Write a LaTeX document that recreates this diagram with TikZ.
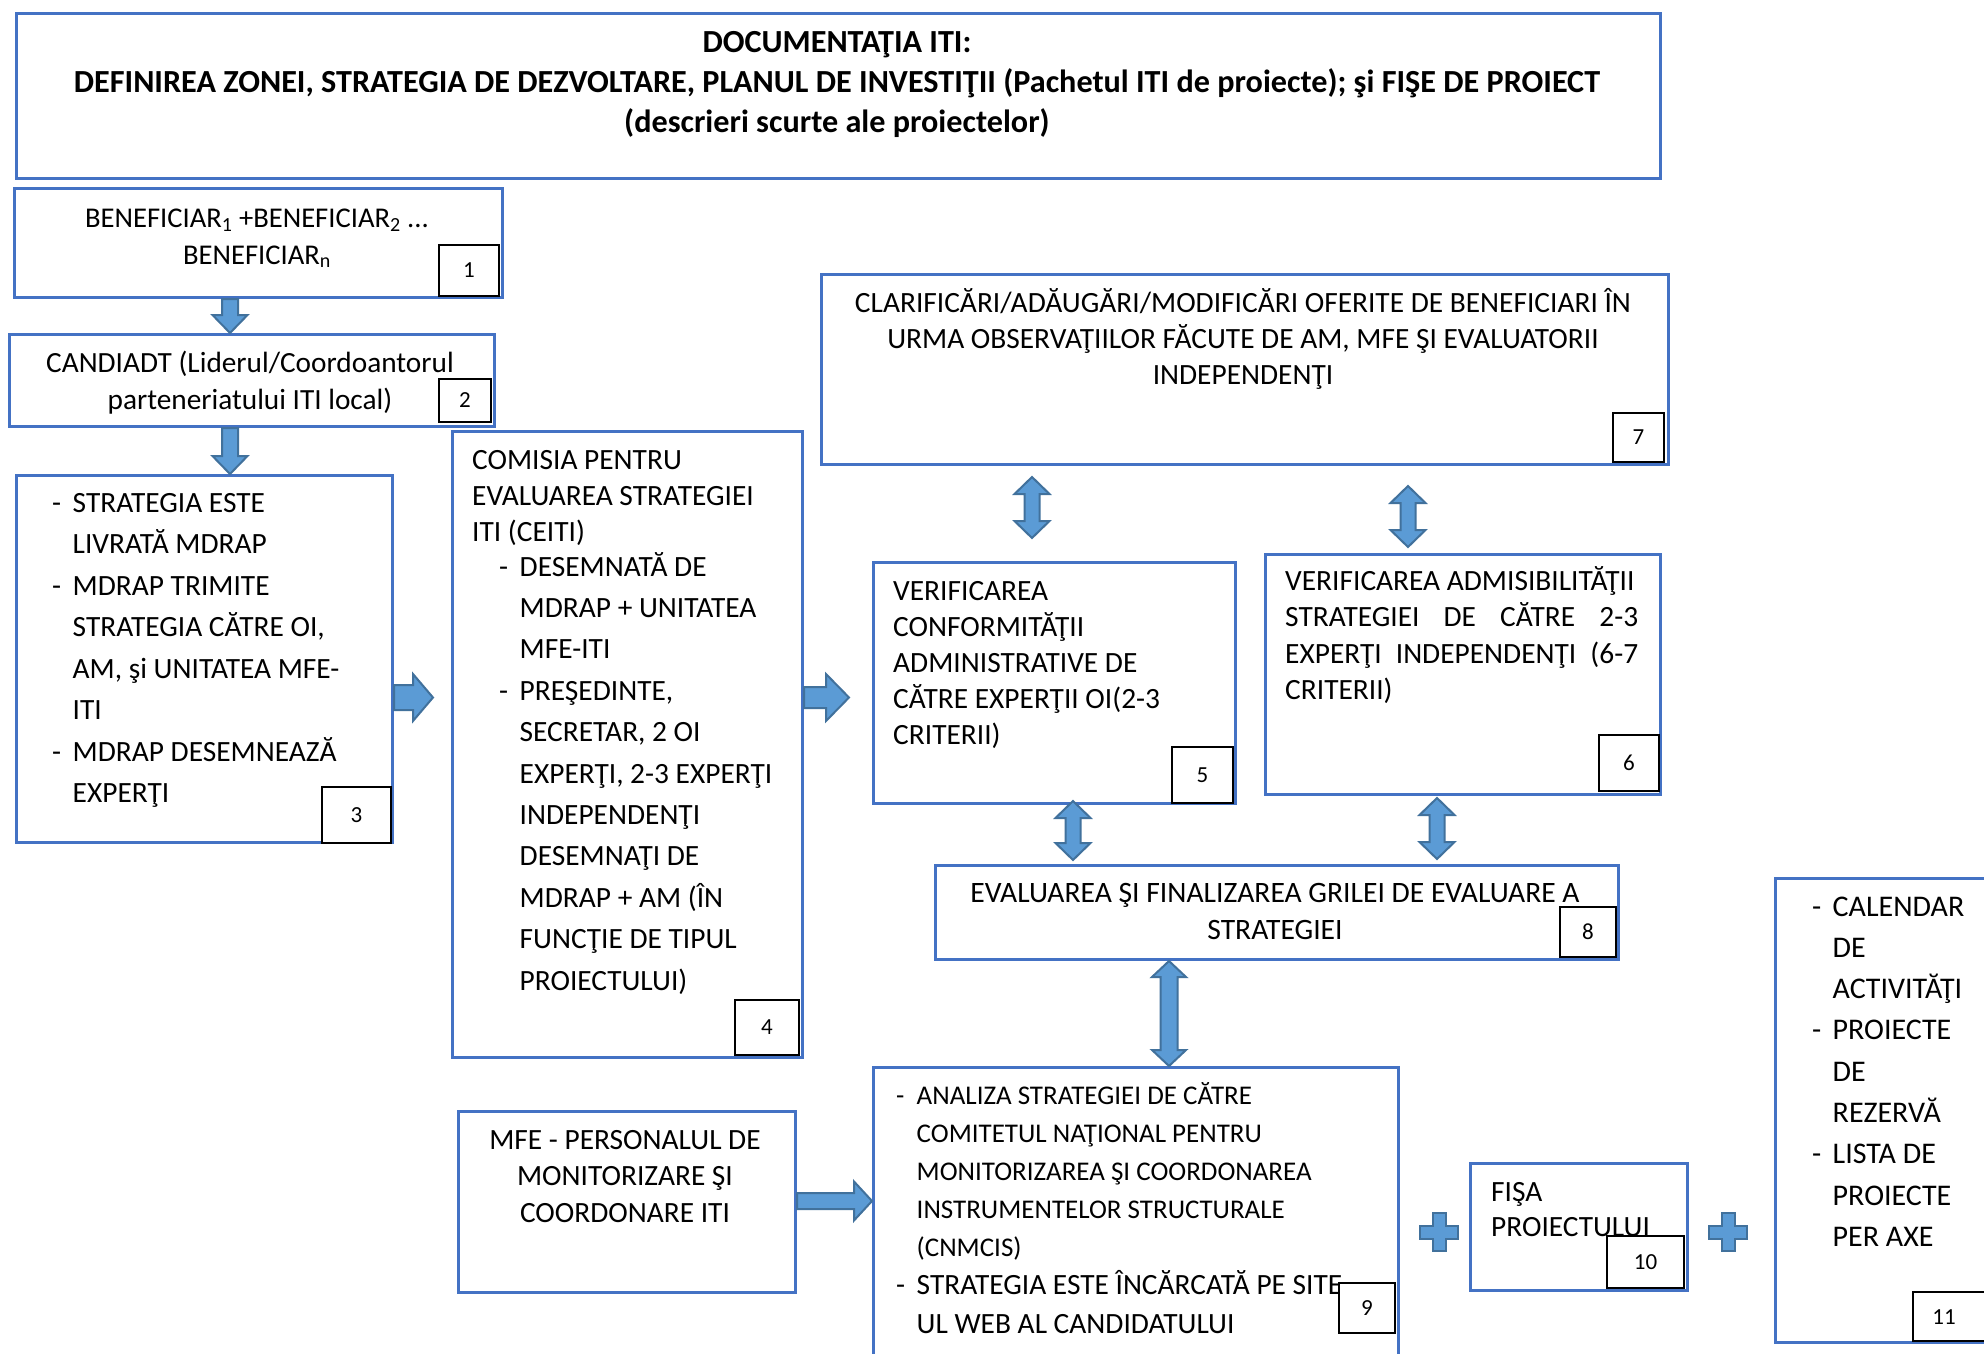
\documentclass[tikz,border=0pt]{standalone}
\usepackage{fontspec}
\setmainfont{Carlito}
\usetikzlibrary{calc}
\definecolor{boxblue}{HTML}{4472C4}
\definecolor{arrowfill}{HTML}{5B9BD5}
\definecolor{arrowline}{HTML}{41719C}
\newcommand\bfnt[2]{\fontsize{#1}{#2}\selectfont}
\newcommand\dsh{\makebox[20.5pt][l]{-}}
% vertical down block arrow: #1 start, #2 tip, #3 half shaft, #4 half head, #5 head length
\newcommand\arrowdown[5]{%
 \path[blockarrow] let \p1=(#1), \p2=(#2) in
  (\x1-#3pt,\y1) -- (\x1-#3pt,\y2+#5pt) -- (\x1-#4pt,\y2+#5pt) -- (\x1,\y2) --
  (\x1+#4pt,\y2+#5pt) -- (\x1+#3pt,\y2+#5pt) -- (\x1+#3pt,\y1) -- cycle;}
\newcommand\arrowright[5]{%
 \path[blockarrow] let \p1=(#1), \p2=(#2) in
  (\x1,\y1+#3pt) -- (\x2-#5pt,\y1+#3pt) -- (\x2-#5pt,\y1+#4pt) -- (\x2,\y1) --
  (\x2-#5pt,\y1-#4pt) -- (\x2-#5pt,\y1-#3pt) -- (\x1,\y1-#3pt) -- cycle;}
\newcommand\arrowupdown[5]{%
 \path[blockarrow] let \p1=(#1), \p2=(#2) in
  (\x1,\y1) -- (\x1+#4pt,\y1-#5pt) -- (\x1+#3pt,\y1-#5pt) -- (\x1+#3pt,\y2+#5pt) --
  (\x1+#4pt,\y2+#5pt) -- (\x1,\y2) -- (\x1-#4pt,\y2+#5pt) -- (\x1-#3pt,\y2+#5pt) --
  (\x1-#3pt,\y1-#5pt) -- (\x1-#4pt,\y1-#5pt) -- cycle;}
\newcommand\plussign[1]{%
 \path[blockarrow] let \p1=(#1) in
  (\x1-6.5pt,\y1+19pt) -- (\x1+6.5pt,\y1+19pt) -- (\x1+6.5pt,\y1+6.5pt) -- (\x1+19pt,\y1+6.5pt) --
  (\x1+19pt,\y1-6.5pt) -- (\x1+6.5pt,\y1-6.5pt) -- (\x1+6.5pt,\y1-19pt) -- (\x1-6.5pt,\y1-19pt) --
  (\x1-6.5pt,\y1-6.5pt) -- (\x1-19pt,\y1-6.5pt) -- (\x1-19pt,\y1+6.5pt) -- (\x1-6.5pt,\y1+6.5pt) -- cycle;}
\tikzset{
 box/.style={draw=boxblue, line width=3pt, inner sep=0pt, anchor=north west},
 numbox/.style={draw=black, line width=1.6pt, fill=white, inner sep=0pt, font=\bfnt{23}{28}},
 numtxt/.style={inner sep=0pt, font=\bfnt{23}{28}},
 blockarrow/.style={fill=arrowfill, draw=arrowline, line width=2pt, line join=miter},
 txt/.style={inner sep=0pt, anchor=base west},
 ctxt/.style={inner sep=0pt, anchor=base},
}
\begin{document}
\begin{tikzpicture}[x=1pt,y=-1pt]
\useasboundingbox (0,0) rectangle (1984,1354);
\clip (0,0) rectangle (1984,1354);
\fill[white] (0,0) rectangle (1984,1354);

% boxes
\node[box, minimum width=1644, minimum height=165] (title) at (15,12) {};
\node[box, minimum width=488, minimum height=109] (box1) at (13,187) {};
\node[box, minimum width=485, minimum height=92] (box2) at (8,333) {};
\node[box, minimum width=376, minimum height=367] (box3) at (15,474) {};
\node[box, minimum width=350, minimum height=626] (box4) at (451,430) {};
\node[box, minimum width=847, minimum height=190] (box7) at (820,273) {};
\node[box, minimum width=362, minimum height=241] (box5) at (872,561) {};
\node[box, minimum width=395, minimum height=240] (box6) at (1264,553) {};
\node[box, minimum width=683, minimum height=94] (box8) at (934,864) {};
\node[box, minimum width=525, minimum height=330] (box9) at (872,1066) {};
\node[box, minimum width=337, minimum height=181] (mfe) at (457,1110) {};
\node[box, minimum width=217, minimum height=127] (box10) at (1469,1162) {};
\node[box, minimum width=230, minimum height=464] (box11) at (1774,877) {};

% texts
\node[ctxt, font=\bfnt{32.2}{39.5}\bfseries] (ttitle) at (837,53) {\begin{tabular}[t]{@{}c@{}}DOCUMENTAŢIA ITI:\\
DEFINIREA ZONEI, STRATEGIA DE DEZVOLTARE, PLANUL DE INVESTIŢII (Pachetul ITI de proiecte); şi FIŞE DE PROIECT\\
(descrieri scurte ale proiectelor)\end{tabular}};

\node[ctxt, font=\bfnt{28.6}{37}] (t1) at (257,227) {\begin{tabular}[t]{@{}c@{}}BENEFICIAR\textsubscript{1} +BENEFICIAR\textsubscript{2} ...\\ BENEFICIAR\textsubscript{n}\end{tabular}};

\node[ctxt, font=\bfnt{29.3}{37}] (t2) at (250,372) {\begin{tabular}[t]{@{}c@{}}CANDIADT (Liderul/Coordoantorul\\ parteneriatului ITI local)\end{tabular}};

\node[txt, font=\bfnt{29.4}{41.5}] (t3) at (52,512) {\begin{tabular}[t]{@{}l@{}l@{}}\dsh & STRATEGIA ESTE\\ & LIVRATĂ MDRAP\\
\dsh & MDRAP TRIMITE\\ & STRATEGIA CĂTRE OI,\\ & AM, şi UNITATEA MFE-\\ & ITI\\
\dsh & MDRAP DESEMNEAZĂ\\ & EXPERŢI\end{tabular}};

\node[txt, font=\bfnt{29.4}{36}] (t4a) at (472,469) {\begin{tabular}[t]{@{}l@{}}COMISIA PENTRU\\ EVALUAREA STRATEGIEI\\ ITI (CEITI)\end{tabular}};
\node[txt, font=\bfnt{29.4}{41.4}] (t4b) at (499,576) {\begin{tabular}[t]{@{}l@{}l@{}}\dsh & DESEMNATĂ DE\\ & MDRAP + UNITATEA\\ & MFE-ITI\\
\dsh & PREŞEDINTE,\\ & SECRETAR, 2 OI\\ & EXPERŢI, 2-3 EXPERŢI\\ & INDEPENDENŢI\\ & DESEMNAŢI DE\\ & MDRAP + AM (ÎN\\ & FUNCŢIE DE TIPUL\\ & PROIECTULUI)\end{tabular}};

\node[ctxt, font=\bfnt{29.4}{36}] (t7) at (1243,312) {\begin{tabular}[t]{@{}c@{}}CLARIFICĂRI/ADĂUGĂRI/MODIFICĂRI OFERITE DE BENEFICIARI ÎN\\ URMA OBSERVAŢIILOR FĂCUTE DE AM, MFE ŞI EVALUATORII\\ INDEPENDENŢI\end{tabular}};

\node[txt, font=\bfnt{29.4}{36}] (t5) at (893,600) {\begin{tabular}[t]{@{}l@{}}VERIFICAREA\\ CONFORMITĂŢII\\ ADMINISTRATIVE DE\\ CĂTRE EXPERŢII OI(2-3\\ CRITERII)\end{tabular}};

\node[txt, font=\bfnt{29.4}{36.5}] (t6) at (1285,590) {\begin{tabular}[t]{@{}l@{}}VERIFICAREA ADMISIBILITĂŢII\\ \makebox[353pt][s]{STRATEGIEI DE CĂTRE 2-3}\\ \makebox[353pt][s]{EXPERŢI INDEPENDENŢI (6-7}\\ CRITERII)\end{tabular}};

\node[ctxt, font=\bfnt{29.6}{37}] (t8) at (1275,902) {\begin{tabular}[t]{@{}c@{}}EVALUAREA ŞI FINALIZAREA GRILEI DE EVALUARE A\\ STRATEGIEI\end{tabular}};

\node[txt, font=\bfnt{27}{38.2}] (t9) at (896,1104) {\begin{tabular}[t]{@{}l@{}l@{}}\dsh & ANALIZA STRATEGIEI DE CĂTRE\\ & COMITETUL NAŢIONAL PENTRU\\ & MONITORIZAREA ŞI COORDONAREA\\ & INSTRUMENTELOR STRUCTURALE\\ & (CNMCIS)\end{tabular}};
\node[txt, font=\bfnt{29.4}{39}] (t9b) at (896,1294) {\begin{tabular}[t]{@{}l@{}l@{}}\dsh & STRATEGIA ESTE ÎNCĂRCATĂ PE SITE-\\ & UL WEB AL CANDIDATULUI\end{tabular}};

\node[ctxt, font=\bfnt{29.4}{36.5}] (tmfe) at (625,1149) {\begin{tabular}[t]{@{}c@{}}MFE - PERSONALUL DE\\ MONITORIZARE ŞI\\ COORDONARE ITI\end{tabular}};

\node[txt, font=\bfnt{29.4}{35}] (t10) at (1491,1201) {\begin{tabular}[t]{@{}l@{}}FIŞA\\ PROIECTULUI\end{tabular}};

\node[txt, font=\bfnt{30}{41.3}] (t11) at (1812,916) {\begin{tabular}[t]{@{}l@{}l@{}}\dsh & CALENDAR\\ & DE\\ & ACTIVITĂŢI\\ \dsh & PROIECTE\\ & DE\\ & REZERVĂ\\ \dsh & LISTA DE\\ & PROIECTE\\ & PER AXE\end{tabular}};

% number boxes
\node[numbox, minimum width=60, minimum height=51] (n1) at (469,270.5) {1};
\node[numbox, minimum width=52, minimum height=43] (n2) at (465,400.5) {2};
\node[numbox, minimum width=69, minimum height=56] (n3) at (356.5,815) {3};
\node[numbox, minimum width=64, minimum height=55] (n4) at (767,1027.5) {4};
\node[numbox, minimum width=61, minimum height=56] (n5) at (1202.5,775) {5};
\node[numbox, minimum width=60, minimum height=56] (n6) at (1629,763) {6};
\node[numbox, minimum width=51, minimum height=49] (n7) at (1638.5,437.5) {7};
\node[numbox, minimum width=56, minimum height=50] (n8) at (1588,932) {8};
\node[numbox, minimum width=56, minimum height=50] (n9) at (1367,1308) {9};
\node[numbox, minimum width=77, minimum height=52] (n10) at (1645.5,1262) {10};
\node[numbox, minimum width=77, minimum height=49] (n11) at (1951.5,1316.5) {};
\node[numtxt] (n11t) at (1944,1317) {11};

% connectors
\coordinate (a12s) at ($(box1.south west)+(217,0)$);
\coordinate (a12e) at (a12s |- box2.north);
\arrowdown{a12s}{a12e}{8}{17.5}{18}
\coordinate (a23s) at ($(box2.south west)+(222,0)$);
\coordinate (a23e) at (a23s |- box3.north);
\arrowdown{a23s}{a23e}{8}{17.5}{18}
\coordinate (a34s) at (box3.east |- 0,697.5);
\coordinate (a34e) at (433,697.5);
\arrowright{a34s}{a34e}{12.5}{23.5}{20}
\coordinate (a45s) at (box4.east |- 0,697.5);
\coordinate (a45e) at (849,697.5);
\arrowright{a45s}{a45e}{10.5}{23.5}{23}
\coordinate (am9s) at (mfe.east |- 0,1201);
\coordinate (am9e) at (box9.west |- 0,1201);
\arrowright{am9s}{am9e}{8}{19.5}{18}
\coordinate (d75a) at (1032,477);
\coordinate (d75b) at (1032,538);
\arrowupdown{d75a}{d75b}{7.5}{17.5}{17}
\coordinate (d76a) at (1408,486);
\coordinate (d76b) at (1408,547);
\arrowupdown{d76a}{d76b}{7.5}{17.5}{17}
\coordinate (d58a) at (1073,801);
\coordinate (d58b) at (1073,860);
\arrowupdown{d58a}{d58b}{7.5}{17.5}{17}
\coordinate (d68a) at (1437,798);
\coordinate (d68b) at (1437,859);
\arrowupdown{d68a}{d68b}{7.5}{17.5}{17}
\coordinate (d89a) at ($(box8.south west)+(235,0)$);
\coordinate (d89b) at (d89a |- box9.north);
\arrowupdown{d89a}{d89b}{8.5}{17}{16}
\coordinate (p1) at (1439,1232);
\plussign{p1}
\coordinate (p2) at (1728,1232);
\plussign{p2}
\end{tikzpicture}
\end{document}
